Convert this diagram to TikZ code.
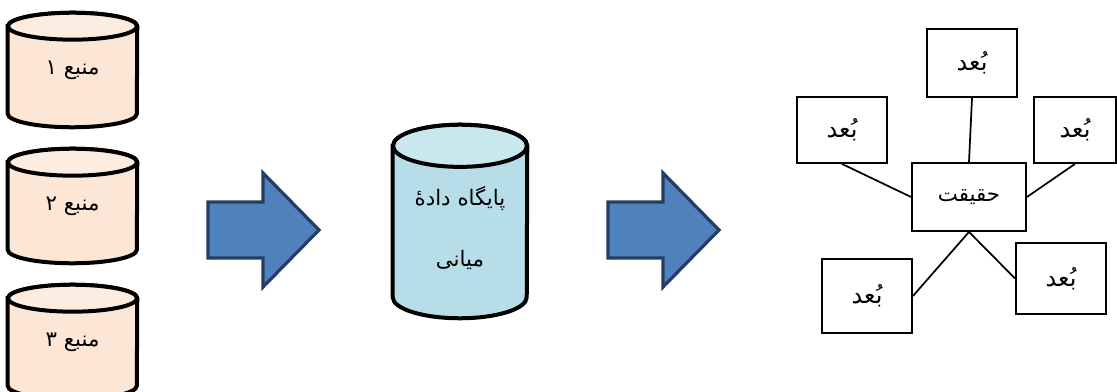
\documentclass[tikz,border=0pt]{standalone}
\usepackage{fontspec}
\newfontfamily\arabicfont[Script=Arabic]{DejaVu Sans}
\TeXXeTstate=1
\usepackage{tikz}
\usetikzlibrary{backgrounds}
\definecolor{peach}{RGB}{252,230,214}
\definecolor{peachtop}{RGB}{253,236,224}
\definecolor{aqua}{RGB}{183,222,232}
\definecolor{aquatop}{RGB}{200,231,239}
\definecolor{arrowblue}{RGB}{79,129,189}
\definecolor{arrowline}{RGB}{36,62,98}
\tikzset{
  dbnode/.style={align=center, inner sep=0pt},
  srcdb/.style={dbnode, minimum width=96.75pt, minimum height=85.5pt,
    font=\arabicfont\fontsize{16}{19}\selectfont},
  middb/.style={dbnode, minimum width=100.5pt, minimum height=144.75pt,
    font=\arabicfont\fontsize{16}{19}\selectfont},
  dbline/.style={draw=black, line width=3pt},
  dimbox/.style={draw, line width=1.4pt, inner sep=0pt,
    font=\arabicfont\fontsize{18}{20}\selectfont},
  link/.style={line width=1.3pt},
  bigarrow/.style={fill=arrowblue, draw=arrowline, line width=2.4pt, line join=miter},
}
\newcommand{\fa}[1]{\beginR #1\endR}

\begin{document}
\begin{tikzpicture}[x=0.75pt, y=-0.75pt]
  \useasboundingbox (0,0) rectangle (1117,392);

  % source databases
  \node[srcdb] (src1) at (72.5,70)  {\fa{منبع ۱}};
  \node[srcdb] (src2) at (72.5,206) {\fa{منبع ۲}};
  \node[srcdb] (src3) at (72.5,342) {\fa{منبع ۳}};

  % intermediate database
  \node[middb] (stage) at (460,221.5)
    {\rule{0pt}{24pt}\fa{پایگاه دادهٔ}\\[27pt]\fa{میانی}};

  % cylinder outlines behind the texts
  \begin{scope}[on background layer]
    \foreach \n/\rx/\ry/\body/\top in {src1/48.4pt/10.1pt/peach/peachtop,
        src2/48.4pt/10.1pt/peach/peachtop, src3/48.4pt/10.1pt/peach/peachtop,
        stage/50.25pt/15.8pt/aqua/aquatop} {
      \filldraw[dbline, fill=\body] ([yshift=-\ry]\n.north west)
        -- ([yshift=\ry]\n.south west)
        arc[start angle=180, end angle=360, x radius=\rx, y radius=\ry]
        -- ([yshift=-\ry]\n.north east)
        arc[start angle=0, end angle=180, x radius=\rx, y radius=\ry] -- cycle;
      \filldraw[dbline, fill=\top] ([yshift=-\ry]\n.north)
        ellipse[x radius=\rx, y radius=\ry];
    }
  \end{scope}

  % block arrows
  \foreach \dx in {0,400}
    \draw[bigarrow, xshift=\dx*0.75pt]
      (208,202) -- (263,202) -- (263,173) -- (319,230)
      -- (263,287) -- (263,258) -- (208,258) -- cycle;

  % fact and its dimensions
  \node[dimbox, minimum width=85.5pt, minimum height=51pt,
        font=\arabicfont\fontsize{16}{19}\selectfont] (fact) at (969,197) {\fa{حقیقت}};
  \node[dimbox, minimum width=67.5pt, minimum height=51pt] (dimTop) at (972,63) {\fa{بُعد}};
  \node[dimbox, minimum width=67.5pt, minimum height=49.5pt] (dimLeft) at (842,130) {\fa{بُعد}};
  \node[dimbox, minimum width=61pt, minimum height=49.5pt] (dimRight) at (1075,130) {\fa{بُعد}};
  \node[dimbox, minimum width=67.5pt, minimum height=55.5pt] (dimLow) at (867,296) {\fa{بُعد}};
  \node[dimbox, minimum width=67.5pt, minimum height=53.25pt] (dimLowR) at (1061,278.5) {\fa{بُعد}};

  \draw[link] (dimTop.south) -- (fact.north);
  \draw[link] (dimLeft.south) -- (fact.west);
  \draw[link] (dimRight.south) -- (fact.east);
  \draw[link] (fact.south) -- (dimLow.east);
  \draw[link] (fact.south) -- (dimLowR.west);
\end{tikzpicture}
\end{document}
